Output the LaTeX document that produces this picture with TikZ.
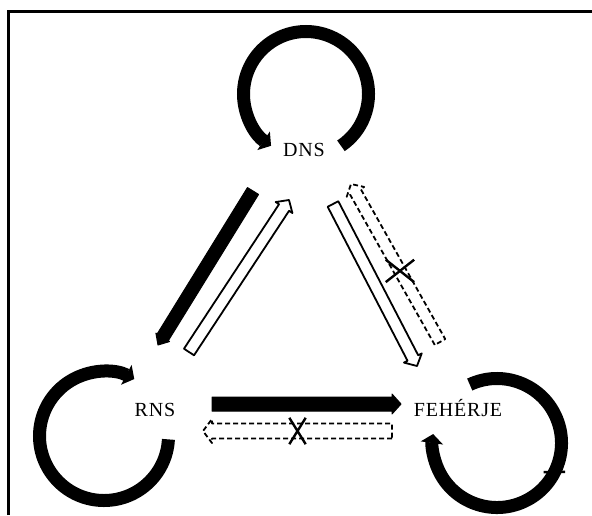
\documentclass[tikz,border=0pt]{standalone}
\usepackage{fontspec}
\setmainfont{Liberation Serif}
\newfontfamily\lblfont[LetterSpace=4]{Liberation Serif}
\usetikzlibrary{arrows.meta,calc,shapes.misc}
\tikzset{
  lbl/.style={font=\lblfont\fontsize{20}{22}\selectfont, inner sep=1pt},
  cyc/.style={draw, line width=13pt, -{Triangle[length=9pt,width=22pt]}},
  blk/.style n args={2}{to path={
    ($(\tikztostart)!#1!90:(\tikztotarget)$)
    -- ($(\tikztotarget)!9pt!(\tikztostart)!#1!-90:(\tikztostart)$)
    -- ($(\tikztotarget)!9pt!(\tikztostart)!#2!-90:(\tikztostart)$)
    -- (\tikztotarget)
    -- ($(\tikztotarget)!9pt!(\tikztostart)!#2!90:(\tikztostart)$)
    -- ($(\tikztotarget)!9pt!(\tikztostart)!#1!90:(\tikztostart)$)
    -- ($(\tikztostart)!#1!-90:(\tikztotarget)$) -- cycle}},
  full/.style={fill=black, draw=black, line width=1pt, line join=round},
  hol/.style={fill=white, draw=black, line width=1.8pt, line join=round},
  dsh/.style={hol, dash pattern=on 5pt off 3pt},
  xmark/.style={cross out, draw, line width=2.4pt, inner sep=0pt}
}
\begin{document}
\begin{tikzpicture}[x=1pt, y=-1pt]
  \useasboundingbox (0,0) rectangle (592,515);
  % frame
  \draw[line width=3pt] (8.5,515) -- (8.5,11.5) -- (592,11.5);

  % molecules
  \node[lbl] (dns) at (304,150) {DNS};
  \node[lbl] (rns) at (155,410) {RNS};
  \node[lbl] (feh) at (458,408) {FEHÉRJE};

  % self loops
  \draw[cyc] ($(dns)+(2,-56)$) ++(56:62.5) arc[start angle=56, end angle=-236, radius=62.5];
  \draw[cyc] ($(rns)+(-51,26)$) ++(3:64.5) arc[start angle=3, end angle=298, radius=64.5];
  \draw[cyc] ($(feh)+(39,35)$) ++(245:64.5) arc[start angle=245, end angle=548, radius=64.5];
  \draw[line width=2.5pt] ($(feh)+(39,35)+(32:55)$) -- ($(feh)+(39,35)+(23:74)$);

  % transfer ends
  \coordinate (dr1) at (253,191); \coordinate (dr2) at (158,345);
  \coordinate (rd1) at (189,352); \coordinate (rd2) at (289,200);
  \coordinate (df1) at (333,204); \coordinate (df2) at (417,366);
  \coordinate (fd1) at (440,342); \coordinate (fd2) at (351,184);
  \coordinate (rf1) at (212,404); \coordinate (rf2) at (401,404);
  \coordinate (fr1) at (392,431); \coordinate (fr2) at (203,431);

  \draw[full] (dr1) to[blk={6.5pt}{8pt}] (dr2);
  \draw[hol] (rd1) to[blk={6pt}{10pt}] (rd2);
  \draw[hol] (df1) to[blk={6pt}{10pt}] (df2);
  \draw[dsh] (fd1) to[blk={6pt}{10pt}] (fd2);
  \draw[full] (rf1) to[blk={7pt}{10pt}] (rf2);
  \draw[dsh] (fr1) to[blk={7.5pt}{12pt}] (fr2);

  % blocked directions
  \node[xmark, minimum width=14pt, minimum height=24pt] (xb) at ($(fr1)!0.5!(fr2)$) {};
  \node[xmark, minimum width=26pt, minimum height=20pt] (xr) at ($(fd1)!0.45!(fd2)$) {};
\end{tikzpicture}
\end{document}
